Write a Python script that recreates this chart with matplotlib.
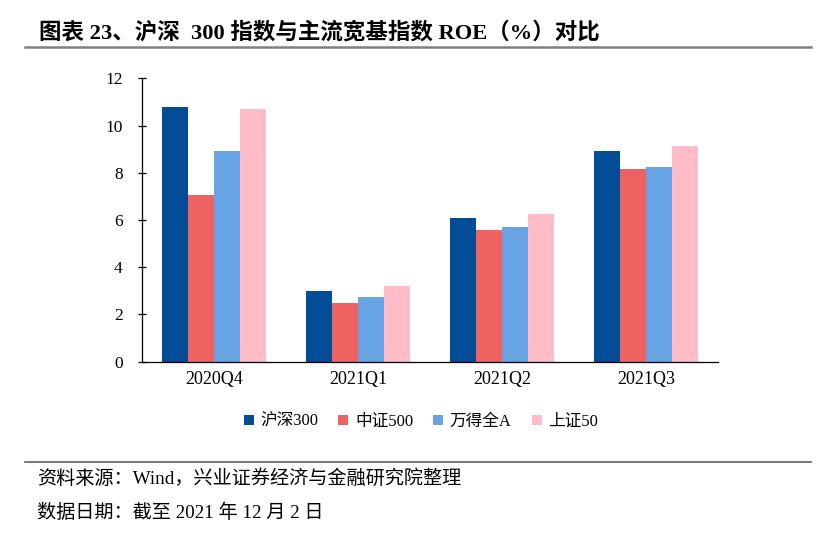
import matplotlib
matplotlib.use("Agg")
import matplotlib.pyplot as plt
import numpy as np
from matplotlib.patches import Patch
from matplotlib.lines import Line2D

categories = ["2020Q4", "2021Q1", "2021Q2", "2021Q3"]
series_names = ["沪深300", "中证500", "万得全A", "上证50"]
hs300 = [10.78, 2.99, 6.10, 8.93]
zz500 = [7.06, 2.47, 5.58, 8.18]
wdqa = [8.94, 2.74, 5.69, 8.25]
sz50 = [10.71, 3.21, 6.24, 9.14]
yticks = [0, 2, 4, 6, 8, 10, 12]

colors = ["#034C96", "#EF6262", "#68A3E3", "#FFBBC8"]
series = [hs300, zz500, wdqa, sz50]

FAM = ["Liberation Serif", "Noto Sans CJK SC"]
plt.rcParams['font.family'] = FAM

fig = plt.figure(figsize=(8.27, 5.38), dpi=100)
ax = fig.add_axes([142/827, 1-361.7/538, 576/827, (361.7-78.3)/538])

x = np.arange(len(categories))
w = 0.18
for i, (vals, c) in enumerate(zip(series, colors)):
    ax.bar(x + (i - 1.5) * w, vals, width=w, color=c, label=series_names[i], zorder=2)

ax.set_xlim(-0.5, 3.5)
ax.set_ylim(0, 12)
ax.set_yticks(yticks)
ax.set_xticks(x)
ax.set_xticklabels(categories)
for s in ["top", "right"]:
    ax.spines[s].set_visible(False)
ax.spines["left"].set_color("#000000")
ax.spines["bottom"].set_color("#000000")
ax.spines["left"].set_linewidth(0.9)
ax.spines["bottom"].set_linewidth(0.9)
ax.tick_params(axis="y", direction="inout", length=6, width=0.9, labelsize=12.5, pad=11)
ax.tick_params(axis="x", length=0, labelsize=13, pad=7)

handles = [Patch(facecolor=c, edgecolor="none") for c in colors]
fig.legend(handles, series_names, loc="center", bbox_to_anchor=(421/827, 1-421.7/538),
           ncol=4, frameon=False, handlelength=0.6, handleheight=0.6, handletextpad=0.4,
           columnspacing=1.2, prop={"family": FAM, "size": 12})

fig.text(39/827, 1-33/538, "图表 23、沪深  300 指数与主流宽基指数 ROE（%）对比",
         ha="left", va="center", fontsize=16.2, fontweight="bold", family=FAM)
fig.add_artist(Line2D([25/827, 811/827], [1-47/538, 1-47/538], color="#808080", lw=1.8))
fig.add_artist(Line2D([25/827, 811/827], [1-462/538, 1-462/538], color="#606060", lw=1.2))
fig.text(37/827, 1-479/538, "资料来源：Wind，兴业证券经济与金融研究院整理",
         ha="left", va="center", fontsize=13.8, family=FAM)
fig.text(37/827, 1-513/538, "数据日期：截至 2021 年 12 月 2 日",
         ha="left", va="center", fontsize=13.8, family=FAM)

fig.savefig("out.png", dpi=100)
